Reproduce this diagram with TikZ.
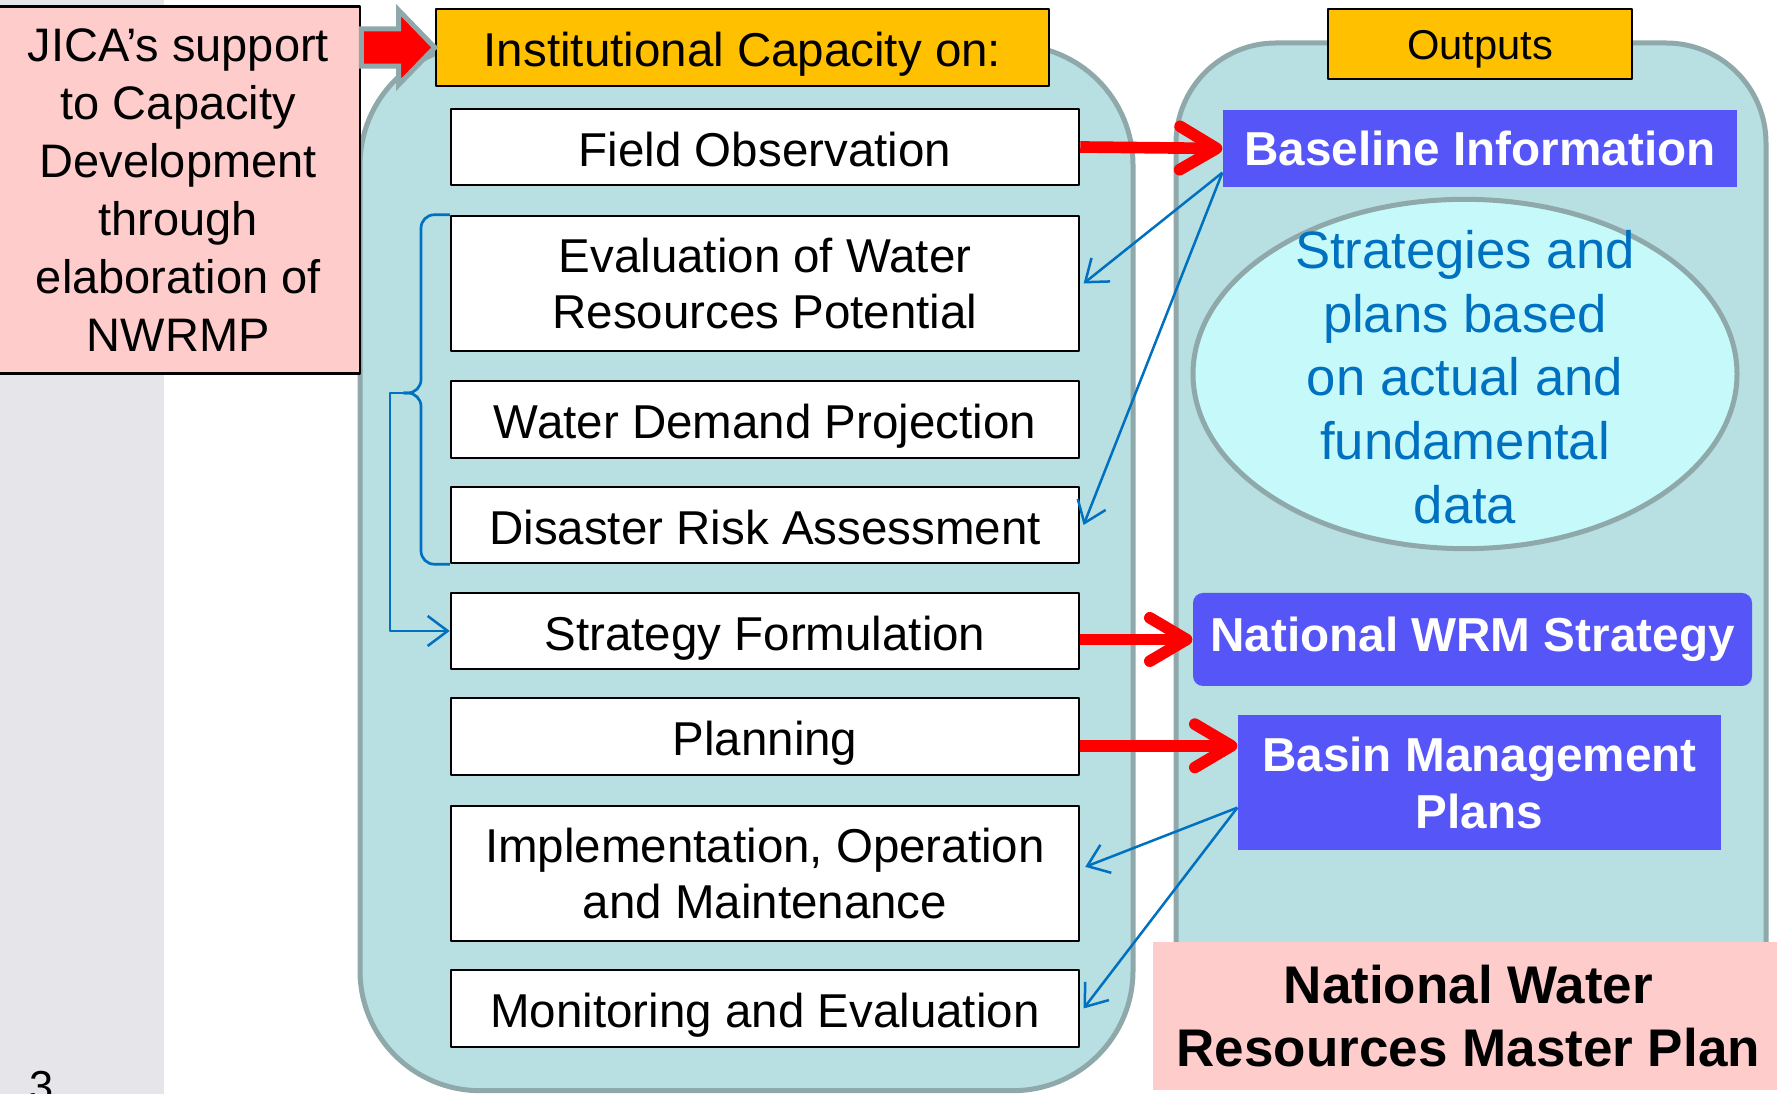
\documentclass[tikz,border=0pt]{standalone}
\usepackage{fontspec}
\setmainfont{Liberation Sans}
\usetikzlibrary{arrows.meta,calc,shapes.geometric}

\definecolor{slidegray}{HTML}{E6E6EA}
\definecolor{jicapink}{HTML}{FFCCCC}
\definecolor{panelfill}{HTML}{B8DFE2}
\definecolor{panelline}{HTML}{8FA9AB}
\definecolor{headorange}{HTML}{FFC000}
\definecolor{outblue}{HTML}{5555F8}
\definecolor{ellfill}{HTML}{C6FAFA}
\definecolor{linkblue}{HTML}{0070C0}

\begin{document}
\begin{tikzpicture}[>={Straight Barb[length=6bp,width=9bp]},line join=bevel,
  panel/.style={draw=panelline,line width=1.5bp,fill=panelfill},
  headbox/.style={draw=black,line width=0.75bp,fill=headorange,inner sep=0pt},
  whitebox/.style={draw=black,line width=0.75bp,fill=white,inner sep=0pt,minimum width=188.4bp,align=center,font=\fontsize{14.25bp}{17bp}\selectfont},
  oneline/.style={text height=11.6bp,text depth=0pt},
  outbox/.style={fill=outblue,text=white,inner sep=0pt,align=center,font=\fontsize{14.3bp}{17.1bp}\selectfont\bfseries},
  redlink/.style={draw=red,line width=3.5bp,-{Straight Barb[length=11bp,width=13bp,round]}},
  bluelink/.style={draw=linkblue,line width=0.75bp,->},
  bracketline/.style={draw=linkblue,line width=0.8bp,rounded corners=4bp},
]
%%
\useasboundingbox (0bp,0bp) rectangle (533.1bp,328.2bp);
\fill [slidegray] (0bp,0bp) rectangle (49.2bp,328.2bp);
\node (node_num) at (12.6bp,-2.1bp) [anchor=base,font=\fontsize{13bp}{15bp}\selectfont] {3};
%% panels
\draw [panel,rounded corners=36bp] (108bp,1bp) rectangle (339.9bp,314.7bp);
\draw [panel,rounded corners=30bp] (352.8bp,10bp) rectangle (529.8bp,315.3bp);
%% left column
\node (node_jica) at (53.5bp,271.2bp) [draw=black,line width=0.75bp,fill=jicapink,minimum width=109bp,minimum height=110.1bp,inner sep=0pt,align=center,font=\fontsize{14.1bp}{17.4bp}\selectfont] {JICA’s support\\to Capacity\\Development\\through\\elaboration of\\NWRMP};
\node (node_inst) at (222.75bp,313.95bp) [headbox,oneline,minimum width=183.9bp,minimum height=23.1bp,font=\fontsize{14.25bp}{17bp}\selectfont] {Institutional Capacity on:};
\node (node_field) at (229.5bp,284.1bp) [whitebox,oneline,minimum height=22.8bp] {Field Observation};
\node (node_eval) at (229.5bp,243.15bp) [whitebox,minimum height=40.5bp] {Evaluation of Water\\Resources Potential};
\node (node_demand) at (229.5bp,202.35bp) [whitebox,oneline,minimum height=23.1bp] {Water Demand Projection};
\node (node_risk) at (229.5bp,170.7bp) [whitebox,oneline,minimum height=22.8bp] {Disaster Risk Assessment};
\node (node_strat) at (229.5bp,138.9bp) [whitebox,oneline,minimum height=22.8bp] {Strategy Formulation};
\node (node_plan) at (229.5bp,107.25bp) [whitebox,oneline,minimum height=23.1bp] {Planning};
\node (node_impl) at (229.5bp,66.15bp) [whitebox,minimum height=40.5bp] {Implementation, Operation\\and Maintenance};
\node (node_monit) at (229.5bp,25.65bp) [whitebox,oneline,minimum height=23.1bp] {Monitoring and Evaluation};
%% right column
\node (node_out) at (444bp,315bp) [headbox,text height=9.6bp,text depth=0pt,minimum width=91.2bp,minimum height=21bp,font=\fontsize{12.5bp}{15bp}\selectfont] {Outputs};
\node (node_base) at (444bp,283.65bp) [outbox,minimum width=154.2bp,minimum height=23.1bp] {Baseline Information};
\node (node_ell) at (439.5bp,216bp) [ellipse,draw=panelline,line width=1.5bp,fill=ellfill,minimum width=163.2bp,minimum height=104.8bp,inner sep=0pt] {};
\node (node_elltext) at (439.5bp,215.1bp) [text=linkblue,align=center,font=\fontsize{15.8bp}{19.1bp}\selectfont] {Strategies and\\plans based\\on actual and\\fundamental\\data};
\node (node_wrm) at (441.75bp,136.35bp) [outbox,rounded corners=3bp,minimum width=167.7bp,minimum height=27.9bp] {National WRM Strategy};
\node (node_basin) at (443.85bp,93.45bp) [outbox,minimum width=144.9bp,minimum height=40.5bp] {Basin Management\\Plans};
\node (node_nwrmp) at (440.5bp,23.4bp) [fill=jicapink,minimum width=189.2bp,minimum height=44.4bp,inner sep=0pt,align=center,font=\fontsize{15.9bp}{19.05bp}\selectfont\bfseries] {National Water\\Resources Master Plan};
%% connectors
\coordinate (arr_tail) at (node_jica.east |- node_inst.west);
\draw [draw=panelline,line width=1.5bp,fill=red,line join=miter] ($(arr_tail)+(0bp,5.6bp)$) -- ++(11.2bp,0bp) -- ++(0bp,5.6bp) -- (node_inst.west) -- ($(arr_tail)+(11.2bp,-11.2bp)$) -- ++(0bp,5.6bp) -- ++(-11.2bp,0bp) -- cycle;
\draw [redlink] (node_field.east) -- (node_base.west);
\draw [redlink] (node_strat.east |- node_wrm.west) -- (node_wrm.west);
\draw [redlink] ([yshift=-2.8bp]node_plan.east) -- ([yshift=-2.8bp]node_plan.east -| node_basin.west);
\draw [bluelink] ([yshift=4.5bp]node_base.south west) -- ([xshift=1bp]node_eval.east);
\draw [bluelink] ([yshift=4.5bp]node_base.south west) -- ([xshift=1bp]node_risk.east);
\draw [bluelink] ([yshift=12.9bp]node_basin.south west) -- ([xshift=1.5bp,yshift=2bp]node_impl.east);
\draw [bluelink] ([yshift=12.9bp]node_basin.south west) -- ([xshift=1bp]node_monit.east);
%% bracket
\coordinate (brace_tip) at (121bp,210.3bp);
\draw [bracketline] (node_eval.north west) -| (126.3bp,210.3bp) -- (brace_tip);
\draw [bracketline] (node_risk.south west) -| (126.3bp,210.3bp) -- (brace_tip);
\draw [bluelink] (brace_tip) -- (117bp,210.3bp) |- (node_strat.west);
%
\end{tikzpicture}
\end{document}
